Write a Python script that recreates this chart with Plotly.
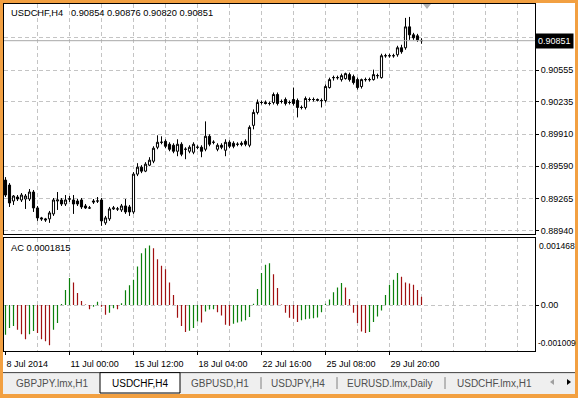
import plotly.graph_objects as go

# ---------------- data ----------------
bar_index = list(range(105))

open_ = [0.8945,0.8940,0.8924,0.8928,0.8925,0.8926,0.8926,0.8933,0.8917,0.8907,
0.8906,0.8906,0.8911,0.8924,0.8925,0.8921,0.8926,0.8925,0.8924,0.8925,
0.8919,0.8917,0.8924,0.8924,0.8925,0.8902,0.8906,0.8916,0.8916,0.8915,
0.8919,0.8918,0.8913,0.8951,0.8958,0.8954,0.8960,0.8964,0.8978,0.8983,
0.8984,0.8981,0.8980,0.8974,0.8981,0.8976,0.8974,0.8973,0.8978,0.8978,
0.8976,0.8989,0.8983,0.8976,0.8980,0.8975,0.8983,0.8982,0.8981,0.8982,
0.8984,0.8980,0.9000,0.9013,0.9023,0.9023,0.9022,0.9023,0.9031,0.9024,
0.9026,0.9023,0.9026,0.9025,0.9018,0.9018,0.9026,0.9026,0.9025,0.9025,
0.9025,0.9038,0.9048,0.9048,0.9046,0.9047,0.9051,0.9049,0.9046,0.9039,
0.9046,0.9046,0.9046,0.9050,0.9048,0.9070,0.9070,0.9070,0.9071,0.9078,
0.9078,0.9099,0.9091,0.9090,0.90854]

high = [0.8948,0.8942,0.8930,0.8930,0.8932,0.8931,0.8936,0.8935,0.8919,0.8908,
0.8907,0.8914,0.8927,0.8933,0.8927,0.8930,0.8929,0.8930,0.8926,0.8927,
0.8921,0.8919,0.8926,0.8928,0.8927,0.8909,0.8918,0.8919,0.8918,0.8921,
0.8926,0.8920,0.8953,0.8962,0.8960,0.8963,0.8968,0.8979,0.8990,0.8989,
0.8986,0.8983,0.8982,0.8986,0.8983,0.8978,0.8980,0.8983,0.8980,0.8980,
0.9004,0.8991,0.8985,0.8982,0.8982,0.8986,0.8985,0.8984,0.8983,0.8984,
0.8986,0.9000,0.9016,0.9026,0.9025,0.9025,0.9024,0.9033,0.9033,0.9026,
0.9028,0.9025,0.9038,0.9027,0.9020,0.9029,0.9028,0.9028,0.9027,0.9027,
0.9041,0.9048,0.9050,0.9050,0.9052,0.9053,0.9053,0.9051,0.9048,0.9047,
0.9048,0.9048,0.9056,0.9052,0.9072,0.9072,0.9072,0.9072,0.9080,0.9081,
0.9108,0.9109,0.9093,0.9092,0.90876]

low = [0.8928,0.8918,0.8920,0.8924,0.8923,0.8916,0.8924,0.8913,0.8904,0.8904,
0.8903,0.8902,0.8909,0.8915,0.8919,0.8919,0.8923,0.8911,0.8919,0.8916,
0.8916,0.8916,0.8921,0.8922,0.8899,0.8900,0.8904,0.8915,0.8914,0.8913,
0.8911,0.8909,0.8911,0.8949,0.8952,0.8953,0.8959,0.8962,0.8976,0.8981,
0.8977,0.8974,0.8972,0.8969,0.8969,0.8966,0.8972,0.8971,0.8976,0.8968,
0.8974,0.8979,0.8981,0.8974,0.8976,0.8969,0.8977,0.8977,0.8979,0.8979,
0.8979,0.8978,0.8996,0.9011,0.9021,0.9021,0.9020,0.9021,0.9020,0.9022,
0.9020,0.9021,0.9020,0.9008,0.9016,0.9016,0.9024,0.9024,0.9024,0.9018,
0.9023,0.9037,0.9045,0.9046,0.9044,0.9046,0.9044,0.9041,0.9036,0.9037,
0.9044,0.9044,0.9045,0.9047,0.9047,0.9068,0.9068,0.9068,0.9069,0.9072,
0.9076,0.9086,0.9086,0.9084,0.90820]

close = [0.8930,0.8922,0.8929,0.8926,0.8930,0.8929,0.8933,0.8917,0.8907,0.8906,
0.8905,0.8912,0.8925,0.8925,0.8921,0.8925,0.8926,0.8921,0.8921,0.8918,
0.8917,0.8917,0.8923,0.8924,0.8904,0.8907,0.8916,0.8917,0.8916,0.8919,
0.8913,0.8913,0.8951,0.8958,0.8954,0.8961,0.8965,0.8977,0.8983,0.8983,
0.8979,0.8976,0.8974,0.8981,0.8971,0.8976,0.8978,0.8981,0.8978,0.8974,
0.8989,0.8981,0.8983,0.8980,0.8978,0.8983,0.8979,0.8979,0.8981,0.8981,
0.8981,0.8998,0.9013,0.9023,0.9023,0.9022,0.9022,0.9031,0.9022,0.9024,
0.9022,0.9023,0.9022,0.9018,0.9018,0.9027,0.9026,0.9026,0.9026,0.9025,
0.9039,0.9046,0.9048,0.9048,0.9050,0.9052,0.9046,0.9043,0.9038,0.9046,
0.9046,0.9046,0.9051,0.9050,0.9070,0.9070,0.9070,0.9070,0.9078,0.9074,
0.9099,0.9091,0.9088,0.9086,0.90851]

ac_values = [-0.00065,-0.00050,-0.00046,-0.00054,-0.00064,-0.00075,-0.00064,-0.00057,-0.00061,-0.00075,
-0.00079,-0.00088,-0.00054,-0.00039,0.00002,0.00033,0.00059,0.00049,0.00026,0.00009,
0.00001,-0.00009,-0.00004,0.00007,-0.00004,-0.00021,-0.00017,-0.00007,-0.00009,0.00004,
0.00032,0.00043,0.00055,0.00084,0.00113,0.00124,0.00130,0.00124,0.00100,0.00086,
0.00078,0.00049,0.00022,-0.00028,-0.00046,-0.00059,-0.00056,-0.00050,-0.00036,-0.00038,
-0.00014,-0.00010,-0.00009,-0.00016,-0.00023,-0.00043,-0.00045,-0.00041,-0.00038,-0.00036,
-0.00033,-0.00026,0.00003,0.00035,0.00070,0.00088,0.00091,0.00067,0.00037,0.00001,
-0.00017,-0.00028,-0.00030,-0.00037,-0.00033,-0.00031,-0.00030,-0.00029,-0.00027,-0.00016,
0.00003,0.00012,0.00028,0.00038,0.00048,0.00038,0.00013,-0.00017,-0.00039,-0.00058,
-0.00061,-0.00059,-0.00037,-0.00025,-0.00012,0.00022,0.00044,0.00055,0.00070,0.00062,
0.00049,0.00047,0.00044,0.00033,0.0001815]

price_ticks = [0.88940, 0.89265, 0.89590, 0.89910, 0.90235, 0.90555, 0.90880]
price_tick_text = ["0.88940", "0.89265", "0.89590", "0.89910", "0.90235", "0.90555", ""]
time_tick_index = [0, 16, 32, 48, 64, 80, 96]
time_tick_text = ["8 Jul 2014", "11 Jul 00:00", "15 Jul 12:00", "18 Jul 04:00",
                  "22 Jul 16:00", "25 Jul 08:00", "29 Jul 20:00"]
grid_index = list(range(8, 129, 8))
ac_max, ac_min = 0.001468, -0.001009
tabs = ["GBPJPY.lmx,H1", "USDCHF,H4", "GBPUSD,H1", "USDJPY,H4", "EURUSD.lmx,Daily", "USDCHF.lmx,H1"]
header = "USDCHF,H4\u00a0\u00a0\u00a0" + " ".join(f"{v:.5f}" for v in (open_[-1], high[-1], low[-1], close[-1]))

# ---------------- style ----------------
W, H = 578, 398
def fx(p): return p / W
def fy(p): return 1 - p / H

FONT = "Arial, 'Liberation Sans', sans-serif"
GRID = "#C4C4C4"
DASH = "4px,3px"
ORANGE = "#F2A041"
GREEN = "#0B800B"
RED = "#A01010"

# AC histogram: rising bars green, falling bars red (split into two line traces of vertical strokes)
rising = [True] + [ac_values[i] > ac_values[i - 1] for i in range(1, len(ac_values))]
def stems(flag):
    xs, ys = [], []
    for i, v, r in zip(bar_index, ac_values, rising):
        if r == flag:
            xs += [i, i, None]
            ys += [0, v, None]
    return xs, ys

fig = go.Figure()
fig.add_trace(go.Candlestick(
    x=bar_index, open=open_, high=high, low=low, close=close,
    increasing=dict(line=dict(color="black", width=1), fillcolor="white"),
    decreasing=dict(line=dict(color="black", width=1), fillcolor="black"),
    whiskerwidth=0, xaxis="x", yaxis="y", hoverinfo="skip"))
for flag, col in ((True, GREEN), (False, RED)):
    sx, sy = stems(flag)
    fig.add_trace(go.Scatter(x=sx, y=sy, mode="lines", line=dict(color=col, width=1.2),
                             xaxis="x2", yaxis="y2", hoverinfo="skip", connectgaps=False))

xr = [-0.375, -0.375 + 531 / 4]
fig.update_layout(
    width=W, height=H, margin=dict(l=0, r=0, t=0, b=0),
    paper_bgcolor=ORANGE, plot_bgcolor="white", showlegend=False,
    font=dict(family=FONT, size=9, color="black"), boxgap=0.25,
    xaxis=dict(domain=[fx(4), fx(535)], range=xr, anchor="y",
               tickvals=grid_index, showticklabels=False, ticks="",
               showgrid=True, gridcolor=GRID, griddash=DASH, gridwidth=1,
               showline=True, mirror=True, linecolor="black", zeroline=False,
               rangeslider=dict(visible=False)),
    yaxis=dict(domain=[fy(235), fy(4)], range=[0.8891, 0.9122], anchor="x", side="right",
               tickvals=price_ticks, ticktext=price_tick_text,
               ticks="outside", ticklen=3, tickcolor="black",
               showgrid=True, gridcolor=GRID, griddash=DASH,
               showline=True, mirror=True, linecolor="black", zeroline=False),
    xaxis2=dict(domain=[fx(4), fx(535)], range=xr, anchor="y2",
                tickvals=time_tick_index, ticktext=time_tick_text,
                ticklabelposition="outside right", ticks="outside", ticklen=3, tickcolor="black",
                ticklabelstandoff=4,
                showgrid=False,
                minor=dict(tickvals=grid_index, showgrid=True, gridcolor=GRID, griddash=DASH, ticks=""),
                showline=True, mirror=True, linecolor="black", zeroline=False),
    yaxis2=dict(domain=[fy(353), fy(239)], range=[ac_min, ac_max], anchor="x2", side="right",
                tickvals=[0], ticktext=["0.00"], ticks="outside", ticklen=3, tickcolor="black",
                showgrid=True, gridcolor=GRID, griddash=DASH,
                showline=True, mirror=True, linecolor="black", zeroline=False),
)

shapes = []
# white window interior
shapes.append(dict(type="rect", xref="paper", yref="paper", x0=fx(3), x1=fx(575), y0=fy(396), y1=fy(3),
                   fillcolor="white", line=dict(width=0), layer="below"))
# tab bar
shapes.append(dict(type="rect", xref="paper", yref="paper", x0=fx(3), x1=fx(575), y0=fy(396), y1=fy(374),
                   fillcolor="#EFEFEF", line=dict(width=0), layer="below"))
shapes.append(dict(type="line", xref="paper", yref="paper", x0=fx(3), x1=fx(575), y0=fy(374.5), y1=fy(374.5),
                   line=dict(color="#404040", width=1)))
shapes.append(dict(type="rect", xref="paper", yref="paper", x0=fx(100), x1=fx(180), y0=fy(395), y1=fy(374.5),
                   fillcolor="white", line=dict(color="black", width=1)))
for sx in (261, 337, 445):
    shapes.append(dict(type="line", xref="paper", yref="paper", x0=fx(sx), x1=fx(sx), y0=fy(391), y1=fy(379),
                       line=dict(color="#808080", width=1)))
# scroll arrows
shapes.append(dict(type="path", xref="paper", yref="paper",
                   path=f"M {fx(550)} {fy(384)} L {fx(554)} {fy(381)} L {fx(554)} {fy(387)} Z",
                   fillcolor="#A0A0A0", line=dict(width=0)))
shapes.append(dict(type="path", xref="paper", yref="paper",
                   path=f"M {fx(571)} {fy(384)} L {fx(567)} {fy(381)} L {fx(567)} {fy(387)} Z",
                   fillcolor="black", line=dict(width=0)))
# chart shift marker
shapes.append(dict(type="path", xref="paper", yref="paper",
                   path=f"M {fx(423)} {fy(4)} L {fx(431)} {fy(4)} L {fx(427)} {fy(9)} Z",
                   fillcolor="#B0B0B0", line=dict(width=0)))
# current price line
shapes.append(dict(type="line", xref="x domain", yref="y", x0=0, x1=1, y0=close[-1], y1=close[-1],
                   line=dict(color="#A8A8A8", width=1)))
fig.update_layout(shapes=shapes)

ann = []
ann.append(dict(xref="paper", yref="paper", x=fx(9), y=fy(13), text=header, showarrow=False,
                xanchor="left", yanchor="middle", font=dict(size=9.3, color="black")))
ann.append(dict(xref="paper", yref="paper", x=fx(9), y=fy(249), text=f"AC {ac_values[-1]:.7f}",
                showarrow=False, xanchor="left", yanchor="middle", font=dict(size=9.3, color="black")))
ann.append(dict(xref="paper", yref="y", x=fx(535), y=close[-1], text=f"{close[-1]:.5f}", showarrow=False,
                xanchor="left", yanchor="middle", bgcolor="black", borderpad=2,
                font=dict(size=9, color="white")))
ann.append(dict(xref="paper", yref="paper", x=fx(537), y=fy(247), text=f"{ac_max:.6f}", showarrow=False,
                xanchor="left", yanchor="middle", font=dict(size=8.6, color="black")))
ann.append(dict(xref="paper", yref="paper", x=fx(535.5), y=fy(345), text=f"{ac_min:.6f}", showarrow=False,
                xanchor="left", yanchor="middle", font=dict(size=8.4, color="black")))
tab_centers = [52, 140, 220, 298, 390, 494]
for t, cx in zip(tabs, tab_centers):
    ann.append(dict(xref="paper", yref="paper", x=fx(cx), y=fy(385), text=t, showarrow=False,
                    xanchor="center", yanchor="middle",
                    font=dict(size=10, color="black" if t == "USDCHF,H4" else "#505050")))
fig.update_layout(annotations=ann)

fig.write_html("out.html")
